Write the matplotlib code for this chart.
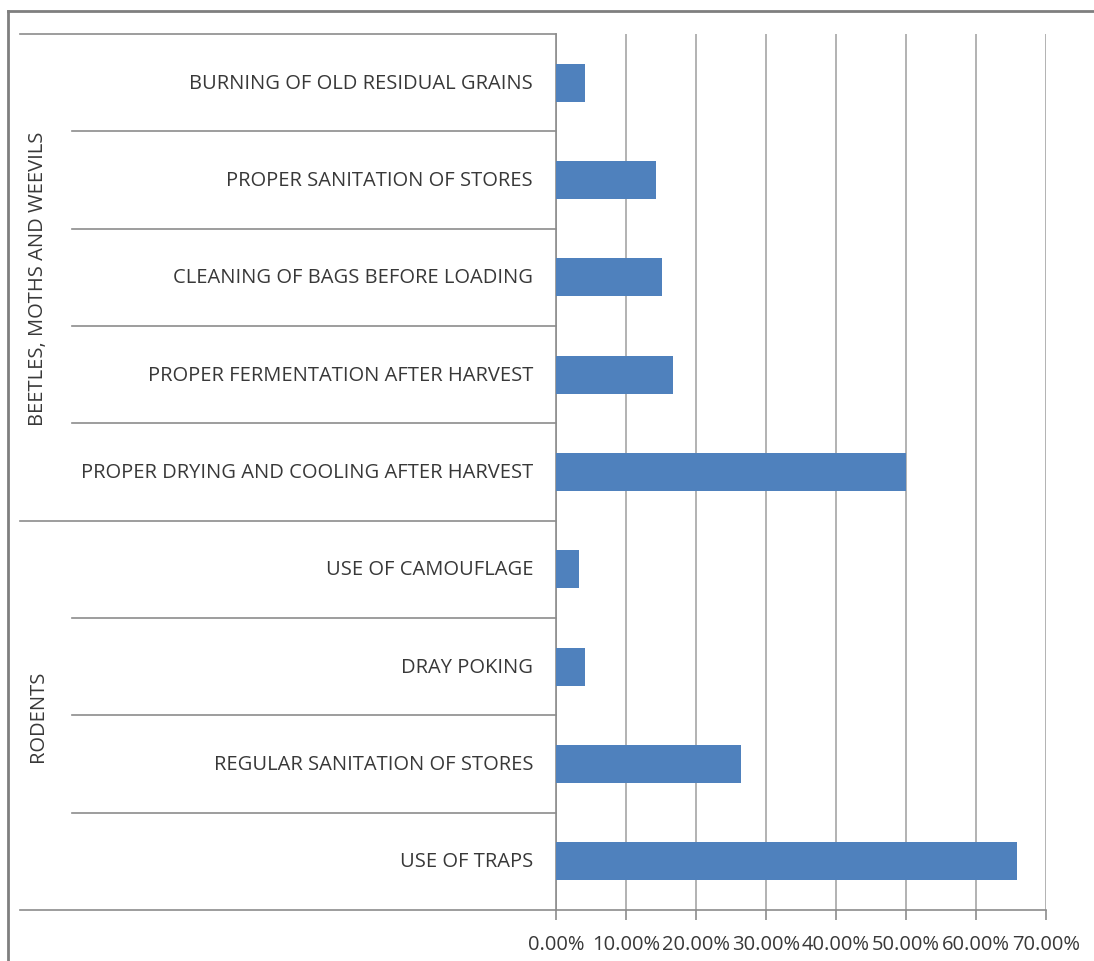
import matplotlib.pyplot as plt
from matplotlib.lines import Line2D
from matplotlib.ticker import FuncFormatter

# categories listed bottom to top
categories = [
    "USE OF TRAPS",
    "REGULAR SANITATION OF STORES",
    "DRAY POKING",
    "USE OF CAMOUFLAGE",
    "PROPER DRYING AND COOLING AFTER HARVEST",
    "PROPER FERMENTATION AFTER HARVEST",
    "CLEANING OF BAGS BEFORE LOADING",
    "PROPER SANITATION OF STORES",
    "BURNING OF OLD RESIDUAL GRAINS",
]
values = [65.9, 26.4, 4.1, 3.3, 50.0, 16.7, 15.1, 14.3, 4.1]
groups = ["RODENTS", "BEETLES, MOTHS AND WEEVILS"]
group_sizes = [4, 5]
xticks = [0, 10, 20, 30, 40, 50, 60, 70]

W, H = 1094, 962
plt.rcParams["font.family"] = ["Open Sans", "DejaVu Sans"]
text_color = "#383838"
line_color = "#8c8c8c"
fs = 14.5

fig = plt.figure(figsize=(W / 100, H / 100), dpi=100)
ax = fig.add_axes([556 / W, (H - 911) / H, (1046 - 556) / W, (911 - 35) / H])

ypos = list(range(len(categories)))
ax.barh(ypos, values, height=0.39, color="#4F81BD", zorder=3)

ax.set_xlim(0, 70)
ax.set_ylim(-0.5, len(categories) - 0.5)
ax.set_xticks(xticks)
ax.xaxis.set_major_formatter(FuncFormatter(lambda v, p: f"{v:.2f}%"))
ax.set_yticks([])
ax.grid(axis="x", color="#a6a6a6", linewidth=1.2, zorder=0)

for s in ["top", "right"]:
    ax.spines[s].set_visible(False)
ax.spines["left"].set_color(line_color)
ax.spines["bottom"].set_color(line_color)
ax.spines["left"].set_linewidth(1.2)
ax.spines["bottom"].set_linewidth(1.2)
ax.tick_params(axis="x", length=7, color=line_color, width=1.2,
               labelsize=fs, labelcolor=text_color, pad=10)

# multi-level category axis
ytr = ax.get_yaxis_transform()
inner_x = (72 - 556) / (1046 - 556)
outer_x = (20 - 556) / (1046 - 556)
label_x = -23 / (1046 - 556)
group_x = (38 - 556) / (1046 - 556)

for i, name in enumerate(categories):
    ax.text(label_x, i, name, transform=ytr, ha="right", va="center",
            fontsize=fs, color=text_color)

group_edges = [-0.5]
for n in group_sizes:
    group_edges.append(group_edges[-1] + n)

for b in range(len(categories) + 1):
    y = b - 0.5
    x0 = outer_x if y in group_edges else inner_x
    ax.add_line(Line2D([x0, 0], [y, y], transform=ytr, color=line_color,
                       linewidth=1.2, clip_on=False))

for g, name in enumerate(groups):
    yc = (group_edges[g] + group_edges[g + 1]) / 2
    ax.text(group_x, yc, name, transform=ytr, rotation=90, ha="center",
            va="center", fontsize=fs, color=text_color)

# outer chart frame
fig.add_artist(Line2D([8 / W, 8 / W], [0, 1 - 12 / H], color="#7f7f7f", linewidth=2))
fig.add_artist(Line2D([8 / W, 1], [1 - 12 / H, 1 - 12 / H], color="#7f7f7f", linewidth=2))

fig.savefig("out.png", dpi=100)
